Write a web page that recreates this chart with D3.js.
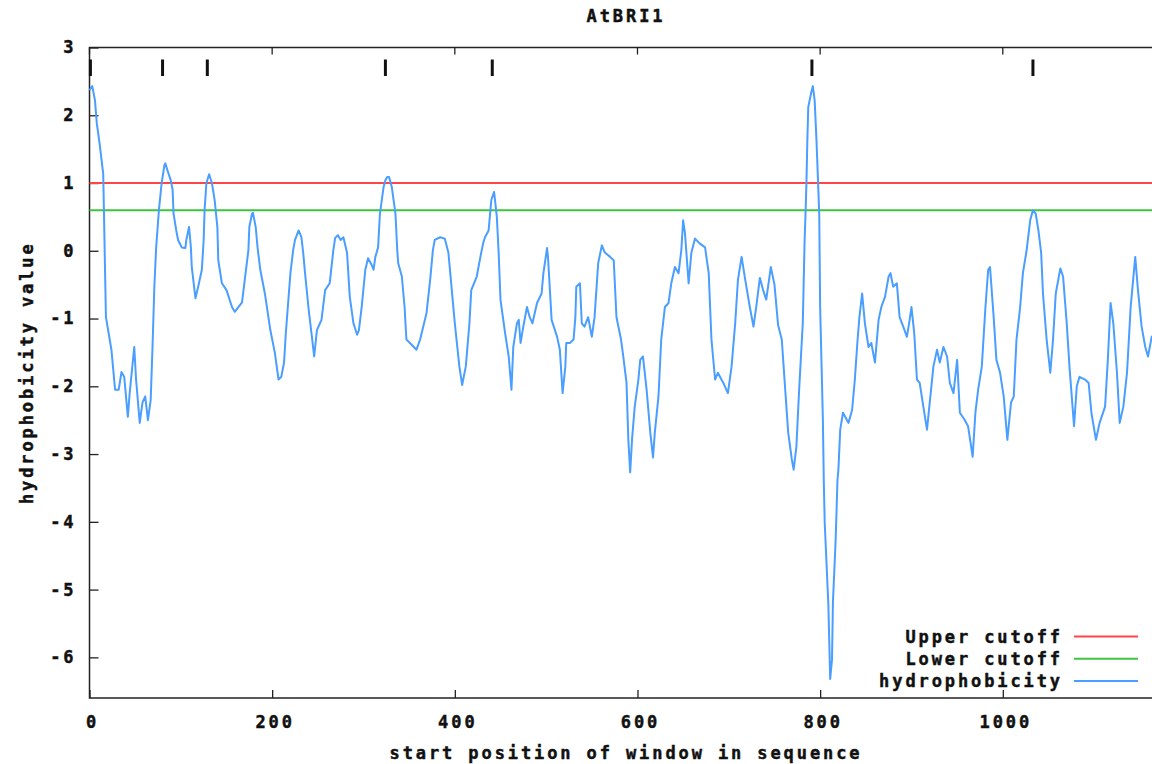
<!DOCTYPE html>
<html>
<head>
<meta charset="utf-8">
<script src="https://cdn.jsdelivr.net/npm/d3@7"></script>
<style>
  body { margin: 0; background: #fff; }
  svg { display: block; }
  text { font-family: "DejaVu Sans Mono", monospace; font-weight: bold; font-size: 17px; letter-spacing: 2.9px; fill: #111; stroke: #111; stroke-width: 0.45px; }
</style>
</head>
<body>
<svg id="chart" width="1152" height="764"></svg>
<script>
// window start positions and hydrophobicity values
const hydroPos = [0,3,6,8,11,15,16,17,18,24,28,32,35,38,42,44,49,51,55,58,61,64,67,69,71,73,76,79,82,83,86,89,91,92,95,97,101,105,106,109,111,112,116,119,123,125,126,128,131,134,137,140,141,145,150,156,159,163,167,170,174,175,178,179,182,184,187,192,198,203,207,210,213,215,220,223,225,229,232,234,236,240,243,246,249,254,258,263,267,269,272,275,278,282,285,289,293,295,298,302,305,309,311,313,316,318,322,324,326,328,331,335,337,338,342,345,347,353,358,362,369,373,376,378,384,389,393,395,400,405,408,412,416,418,424,428,431,433,437,440,443,446,448,450,455,459,462,464,468,470,472,475,479,482,485,490,495,497,501,502,506,512,515,518,521,522,526,530,532,533,537,539,542,546,550,553,557,561,564,570,574,577,582,584,588,590,592,594,597,601,603,606,610,614,617,619,623,626,630,634,637,641,645,648,650,652,656,659,663,668,674,678,681,685,688,694,699,703,707,710,714,718,723,727,730,734,738,741,746,750,754,758,761,765,769,771,774,777,781,783,784,785,786,787,790,792,794,796,799,800,803,804,805,809,811,813,814,817,819,820,822,825,831,835,838,841,843,846,849,853,856,860,864,867,871,875,877,880,884,887,891,895,898,900,903,906,909,913,917,920,924,928,931,935,939,942,946,950,953,958,962,967,970,973,977,981,984,986,990,993,997,1001,1005,1009,1012,1015,1019,1022,1026,1030,1033,1036,1039,1042,1044,1048,1052,1055,1058,1063,1066,1070,1073,1078,1081,1084,1090,1094,1097,1102,1106,1112,1115,1118,1121,1125,1128,1132,1136,1140,1145,1148,1152,1156,1159,1163,1170,1178]
const hydroVal = [2.37,2.43,2.22,1.88,1.59,1.14,0.45,-0.28,-0.98,-1.46,-2.05,-2.05,-1.79,-1.86,-2.45,-2.1,-1.42,-1.9,-2.54,-2.24,-2.15,-2.5,-2.2,-1.42,-0.53,0.05,0.6,1.0,1.26,1.29,1.16,1.04,0.9,0.55,0.3,0.16,0.05,0.04,0.16,0.35,0.05,-0.24,-0.7,-0.53,-0.28,0.16,0.6,1.0,1.13,1.0,0.75,0.35,-0.14,-0.48,-0.58,-0.83,-0.9,-0.83,-0.76,-0.43,0.01,0.35,0.55,0.56,0.35,0.05,-0.28,-0.63,-1.17,-1.51,-1.9,-1.86,-1.65,-1.21,-0.33,0.01,0.16,0.3,0.2,-0.03,-0.33,-0.87,-1.21,-1.56,-1.17,-1.02,-0.58,-0.48,0.01,0.19,0.23,0.16,0.2,-0.03,-0.68,-1.07,-1.24,-1.17,-0.83,-0.28,-0.11,-0.21,-0.28,-0.09,0.05,0.55,0.94,1.04,1.09,1.09,0.94,0.55,0.0,-0.18,-0.38,-0.83,-1.31,-1.39,-1.46,-1.31,-0.92,-0.43,0.01,0.16,0.2,0.18,-0.03,-0.33,-1.07,-1.71,-1.98,-1.71,-1.07,-0.58,-0.38,-0.09,0.11,0.2,0.3,0.75,0.87,0.5,-0.03,-0.72,-1.21,-1.56,-2.05,-1.42,-1.07,-1.02,-1.36,-1.12,-0.83,-0.98,-1.07,-0.77,-0.63,-0.33,0.04,-0.09,-1.02,-1.27,-1.46,-2.1,-1.71,-1.36,-1.36,-1.31,-0.98,-0.53,-0.48,-1.07,-1.12,-0.98,-1.27,-0.98,-0.18,0.08,-0.02,-0.09,-0.14,-0.98,-1.31,-1.51,-1.95,-2.79,-3.27,-2.79,-2.3,-1.9,-1.61,-1.56,-2.05,-2.68,-3.05,-2.68,-2.15,-1.31,-0.83,-0.77,-0.48,-0.24,-0.33,0.01,0.45,0.26,-0.48,-0.03,0.18,0.11,0.05,-0.33,-1.31,-1.9,-1.8,-1.95,-2.1,-1.71,-1.07,-0.43,-0.09,-0.43,-0.83,-1.12,-0.83,-0.4,-0.6,-0.72,-0.24,-0.5,-1.1,-1.31,-1.9,-2.68,-3.08,-3.23,-2.89,-2.05,-1.07,0.16,0.55,1.0,1.63,2.12,2.32,2.43,2.22,1.63,0.55,-0.83,-2.49,-3.4,-4.01,-5.22,-6.32,-6.03,-5.19,-4.26,-3.38,-3.23,-2.64,-2.39,-2.54,-2.35,-1.9,-1.31,-0.98,-0.63,-1.07,-1.42,-1.36,-1.65,-1.02,-0.83,-0.68,-0.38,-0.33,-0.53,-0.48,-0.98,-1.12,-1.27,-1.02,-0.83,-1.21,-1.9,-1.95,-2.3,-2.64,-2.24,-1.71,-1.46,-1.65,-1.42,-1.56,-1.95,-2.1,-1.61,-2.39,-2.49,-2.59,-3.04,-2.39,-2.05,-1.71,-0.83,-0.28,-0.24,-0.98,-1.61,-1.8,-2.15,-2.79,-2.24,-2.15,-1.31,-0.83,-0.33,0.0,0.45,0.6,0.55,0.3,-0.03,-0.63,-1.31,-1.8,-1.31,-0.63,-0.26,-0.38,-1.07,-1.71,-2.59,-2.0,-1.86,-1.9,-1.95,-2.39,-2.79,-2.54,-2.3,-1.61,-0.77,-1.07,-1.8,-2.54,-2.3,-1.8,-0.83,-0.09,-0.58,-1.12,-1.42,-1.56,-1.27,-1.2,-1.1]

// cutoffs and the marks along the top
const upperCutoff = 1.0
const lowerCutoff = 0.6
const peakMarks = [1, 80, 129, 324, 441, 791, 1033]

const xTicks = [0, 200, 400, 600, 800, 1000]
const yTicks = [3, 2, 1, 0, -1, -2, -3, -4, -5, -6]

const legendNames = ["Upper cutoff", "Lower cutoff", "hydrophobicity"]
const legendColors = ["#ff4646", "#3fc43f", "#4a9eff"]

const svg = d3.select("#chart")

const margin = {left: 89.5, top: 47.5, bottom: 698}
const xMax = 1178
const x = d3.scaleLinear().domain([0, xMax]).range([margin.left, margin.left + xMax * 0.9133])
const y = d3.scaleLinear().domain([-6.6, 3]).range([margin.bottom, margin.top])

const plotRight = x(xMax)

// frame of the plot
svg.append("rect")
    .attr("x", x(0))
    .attr("y", y(3))
    .attr("width", plotRight - x(0))
    .attr("height", y(-6.6) - y(3))
    .attr("fill", "none")
    .attr("stroke", "#222")
    .attr("stroke-width", 1.5)

// bottom axis, ticks point inward
const xAxis = svg.append("g")
    .attr("transform", `translate(0,${y(-6.6)})`)
    .call(d3.axisBottom(x).tickValues(xTicks).tickSize(-8).tickSizeOuter(0).tickPadding(18).tickFormat(d => String(d)))
xAxis.select(".domain").remove()
xAxis.selectAll("line").attr("stroke", "#222").attr("stroke-width", 1.3)
xAxis.selectAll("text").attr("dx", "2.5px")
xAxis.attr("font-family", null).attr("font-size", null)

// mirrored ticks on top
svg.append("g").selectAll("line")
    .data(xTicks)
    .enter().append("line")
    .attr("x1", d => x(d)).attr("x2", d => x(d))
    .attr("y1", y(3)).attr("y2", y(3) + 7)
    .attr("stroke", "#222").attr("stroke-width", 1.3)

// left axis
const yAxis = svg.append("g")
    .attr("transform", `translate(${x(0)},0)`)
    .call(d3.axisLeft(y).tickValues(yTicks).tickSize(-9).tickSizeOuter(0).tickPadding(13).tickFormat(d => String(d)))
yAxis.select(".domain").remove()
yAxis.selectAll("line").attr("stroke", "#222").attr("stroke-width", 1.3)
yAxis.attr("font-family", null).attr("font-size", null)

// cutoff lines
svg.append("line")
    .attr("x1", x(0)).attr("x2", plotRight)
    .attr("y1", y(upperCutoff)).attr("y2", y(upperCutoff))
    .attr("stroke", legendColors[0]).attr("stroke-width", 2)
svg.append("line")
    .attr("x1", x(0)).attr("x2", plotRight)
    .attr("y1", y(lowerCutoff)).attr("y2", y(lowerCutoff))
    .attr("stroke", legendColors[1]).attr("stroke-width", 2)

// hydrophobicity curve
const points = hydroPos.map((p, i) => [p, hydroVal[i]])
svg.append("path")
    .datum(points)
    .attr("fill", "none")
    .attr("stroke", legendColors[2])
    .attr("stroke-width", 2)
    .attr("stroke-linejoin", "round")
    .attr("d", d3.line().x(d => x(d[0])).y(d => y(d[1])))

// peak marks near the top
svg.append("g").selectAll("line")
    .data(peakMarks)
    .enter().append("line")
    .attr("x1", d => x(d)).attr("x2", d => x(d))
    .attr("y1", 59.5).attr("y2", 76)
    .attr("stroke", "#111").attr("stroke-width", 3)

// titles
svg.append("text")
    .attr("x", 626).attr("y", 22)
    .attr("text-anchor", "middle")
    .text("AtBRI1")

svg.append("text")
    .attr("x", 626).attr("y", 759)
    .attr("text-anchor", "middle")
    .text("start position of window in sequence")

svg.append("text")
    .attr("transform", `translate(33,${(margin.top + margin.bottom) / 2}) rotate(-90)`)
    .attr("text-anchor", "middle")
    .text("hydrophobicity value")

// legend
const legend = svg.append("g")
legendNames.forEach((name, i) => {
    const ly = 636.5 + i * 22.2
    legend.append("text")
        .attr("x", 1063).attr("y", ly + 6)
        .attr("text-anchor", "end")
        .text(name)
    legend.append("line")
        .attr("x1", 1074).attr("x2", 1138)
        .attr("y1", ly).attr("y2", ly)
        .attr("stroke", legendColors[i]).attr("stroke-width", 2)
})
</script>
</body>
</html>
